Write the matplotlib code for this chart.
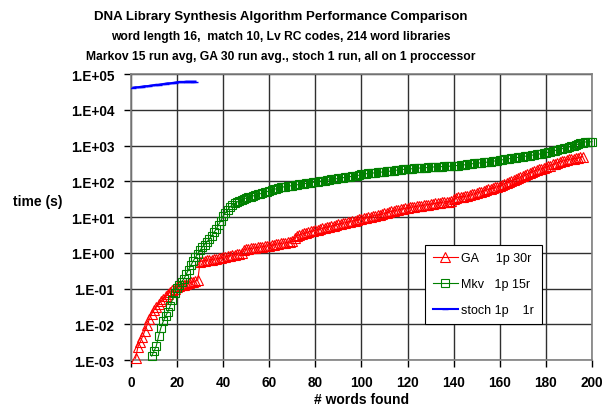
import numpy as np
import matplotlib
matplotlib.use("Agg")
import matplotlib.pyplot as plt
from matplotlib.ticker import FixedLocator, FuncFormatter

plt.rcParams['font.family'] = ['Liberation Sans', 'DejaVu Sans']

# GA, 30 run average: words found 2..196, log10(time in s)
ga_x = list(range(2, 197))
ga_log = [
    -2.95, -2.64, -2.50, -2.35, -2.19, -2.02, -1.86, -1.71, -1.60, -1.52,
    -1.43, -1.36, -1.29, -1.22, -1.16, -1.10, -1.05, -1.00, -0.96, -0.93,
    -0.91, -0.89, -0.87, -0.85, -0.83, -0.81, -0.79, -0.77, -0.25, -0.23,
    -0.22, -0.21, -0.20, -0.19, -0.18, -0.17, -0.16, -0.15, -0.13, -0.11,
    -0.09, -0.08, -0.06, -0.05, -0.04, -0.03, -0.02, 0.08, 0.10, 0.11,
    0.12, 0.13, 0.14, 0.15, 0.16, 0.17, 0.18, 0.19, 0.20, 0.21,
    0.22, 0.24, 0.25, 0.26, 0.27, 0.28, 0.29, 0.30, 0.32, 0.42,
    0.47, 0.50, 0.52, 0.54, 0.56, 0.58, 0.60, 0.61, 0.63, 0.65,
    0.66, 0.68, 0.70, 0.72, 0.73, 0.75, 0.76, 0.78, 0.80, 0.81,
    0.83, 0.84, 0.86, 0.87, 0.89, 0.90, 0.92, 0.94, 0.95, 0.97,
    0.98, 1.00, 1.01, 1.03, 1.04, 1.06, 1.07, 1.08, 1.10, 1.12,
    1.14, 1.16, 1.17, 1.19, 1.20, 1.22, 1.23, 1.24, 1.26, 1.27,
    1.28, 1.29, 1.30, 1.31, 1.32, 1.33, 1.34, 1.35, 1.36, 1.37,
    1.38, 1.39, 1.40, 1.41, 1.42, 1.42, 1.43, 1.45, 1.50, 1.53,
    1.55, 1.56, 1.57, 1.58, 1.59, 1.61, 1.63, 1.65, 1.67, 1.69,
    1.71, 1.73, 1.75, 1.77, 1.79, 1.81, 1.83, 1.85, 1.87, 1.90,
    1.93, 1.96, 1.99, 2.02, 2.04, 2.06, 2.08, 2.11, 2.14, 2.17,
    2.20, 2.23, 2.26, 2.29, 2.31, 2.33, 2.35, 2.37, 2.39, 2.42,
    2.44, 2.47, 2.49, 2.52, 2.54, 2.56, 2.58, 2.60, 2.61, 2.62,
    2.63, 2.64, 2.65, 2.67, 2.69,
]

# Markov, 15 run average: words found 9..200
mkv_x = list(range(9, 201))
mkv_log = [
    -2.89, -2.75, -2.61, -2.33, -2.10, -1.92, -1.78, -1.65, -1.49, -1.31,
    -1.13, -0.98, -0.90, -0.81, -0.73, -0.60, -0.47, -0.35, -0.23, -0.13,
    -0.03, 0.07, 0.16, 0.23, 0.31, 0.38, 0.47, 0.57, 0.66, 0.78,
    0.90, 1.03, 1.12, 1.20, 1.28, 1.34, 1.38, 1.42, 1.45, 1.48,
    1.51, 1.53, 1.55, 1.57, 1.59, 1.61, 1.63, 1.65, 1.67, 1.69,
    1.71, 1.73, 1.75, 1.77, 1.79, 1.81, 1.83, 1.84, 1.85, 1.86,
    1.87, 1.88, 1.89, 1.90, 1.91, 1.92, 1.93, 1.94, 1.95, 1.96,
    1.97, 1.98, 1.99, 2.00, 2.01, 2.02, 2.03, 2.04, 2.05, 2.06,
    2.07, 2.08, 2.09, 2.10, 2.11, 2.12, 2.13, 2.14, 2.15, 2.16,
    2.17, 2.19, 2.20, 2.21, 2.22, 2.22, 2.23, 2.24, 2.25, 2.25,
    2.26, 2.27, 2.28, 2.28, 2.29, 2.30, 2.31, 2.31, 2.32, 2.33,
    2.34, 2.345, 2.35, 2.35, 2.36, 2.36, 2.37, 2.37, 2.38, 2.38,
    2.39, 2.39, 2.40, 2.40, 2.40, 2.41, 2.41, 2.42, 2.42, 2.42,
    2.43, 2.43, 2.44, 2.44, 2.45, 2.46, 2.46, 2.47, 2.48, 2.49,
    2.50, 2.50, 2.51, 2.52, 2.53, 2.53, 2.54, 2.55, 2.56, 2.57,
    2.58, 2.59, 2.60, 2.61, 2.62, 2.63, 2.64, 2.65, 2.66, 2.67,
    2.68, 2.69, 2.70, 2.71, 2.72, 2.73, 2.74, 2.75, 2.76, 2.77,
    2.78, 2.80, 2.81, 2.83, 2.84, 2.86, 2.88, 2.89, 2.91, 2.93,
    2.94, 2.96, 2.98, 3.00, 3.02, 3.04, 3.06, 3.08, 3.10, 3.10,
    3.10, 3.11,
]

# stochastic, 1 run: words found 1..28
st_x = list(range(1, 29))
st_log = [
    4.62, 4.63, 4.63, 4.64, 4.65, 4.66, 4.66, 4.67, 4.68, 4.69,
    4.70, 4.70, 4.71, 4.72, 4.73, 4.74, 4.74, 4.75, 4.76, 4.77,
    4.78, 4.78, 4.78, 4.79, 4.79, 4.79, 4.79, 4.79,
]

ga_t = 10 ** np.array(ga_log)
mkv_t = 10 ** np.array(mkv_log)
st_t = 10 ** np.array(st_log)

fig = plt.figure(figsize=(6.09, 4.10), dpi=100)
ax = fig.add_axes([0.215, 0.1195, 0.757, 0.6975])

ax.plot(ga_x, ga_t, color='red', lw=0.8, marker='^', ms=6.5, mfc='none',
        mec='red', mew=0.8, label='GA     1p 30r', clip_on=False, zorder=3)
ax.plot(mkv_x, mkv_t, color='green', lw=0.8, marker='s', ms=6, mfc='none',
        mec='green', mew=0.8, label='Mkv   1p 15r', clip_on=False, zorder=4)
ax.plot(st_x, st_t, color='blue', lw=1.5, marker='_', ms=4,
        label='stoch 1p    1r', zorder=5)

ax.set_yscale('log')
ax.set_xlim(0, 200)
ax.set_ylim(1e-3, 1e5)
ax.xaxis.set_major_locator(FixedLocator(range(0, 201, 20)))
ax.yaxis.set_major_locator(FixedLocator([10.0 ** k for k in range(-3, 6)]))
ax.yaxis.set_minor_locator(FixedLocator([]))
ax.yaxis.set_major_formatter(FuncFormatter(
    lambda v, p: '1.E%+03d' % int(round(np.log10(v)))))

ax.grid(True, color='#303030', lw=1.0)
for s in ax.spines.values():
    s.set_color('#808080')
    s.set_linewidth(1.2)
ax.tick_params(direction='out', length=5, width=1, color='black',
               labelsize=9.8)
ax.tick_params(axis='x', pad=6)
ax.tick_params(axis='y', pad=7)
for lab in ax.get_xticklabels() + ax.get_yticklabels():
    lab.set_fontweight('bold')

ax.set_xlabel('# words found', fontsize=10, fontweight='bold', labelpad=2)
fig.text(0.062, 0.507, 'time (s)', fontsize=10, fontweight='bold',
         ha='center', va='center')

fig.text(0.461, 0.958, 'DNA Library Synthesis Algorithm Performance Comparison',
         fontsize=9.5, fontweight='bold', ha='center', va='center')
fig.text(0.461, 0.910, 'word length 16,  match 10, Lv RC codes, 214 word libraries',
         fontsize=8.7, fontweight='bold', ha='center', va='center')
fig.text(0.461, 0.861, 'Markov 15 run avg, GA 30 run avg., stoch 1 run, all on 1 proccessor',
         fontsize=8.7, fontweight='bold', ha='center', va='center')

leg = ax.legend(loc='upper left', bbox_to_anchor=(0.698, 0.40),
                bbox_transform=fig.transFigure, fontsize=9,
                frameon=True, fancybox=False, handlelength=2.0,
                labelspacing=1.1, borderpad=0.6, handletextpad=0.3,
                borderaxespad=0)
leg.get_frame().set_edgecolor('black')
leg.get_frame().set_linewidth(0.8)
leg.get_frame().set_alpha(1)

fig.savefig('out.png', dpi=100)
